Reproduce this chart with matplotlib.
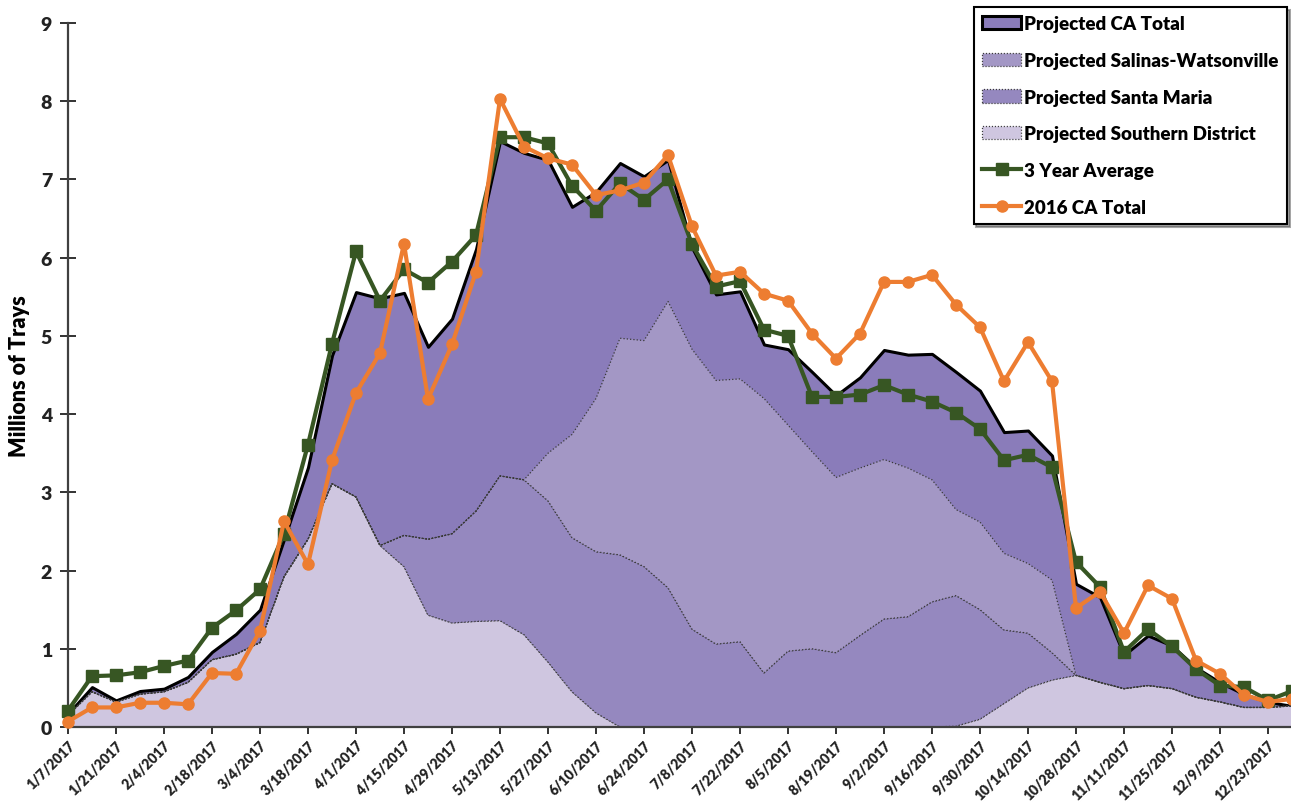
import numpy as np
import pandas as pd
import matplotlib
matplotlib.use("Agg")
import matplotlib.pyplot as plt

plt.rcParams['font.family'] = ['Lato', 'DejaVu Sans']
plt.rcParams['font.weight'] = 'bold'

# weekly periods, 2017
weeks = pd.date_range('2017-01-07', periods=52, freq='7D')
week_labels = [f"{d.month}/{d.day}/{d.year}" for d in weeks]

ca_total = [0.17, 0.51, 0.34, 0.46, 0.49, 0.64, 0.96, 1.19, 1.50, 2.40,
            3.32, 4.75, 5.56, 5.48, 5.55, 4.86, 5.22, 6.11, 7.49, 7.34,
            7.25, 6.65, 6.84, 7.21, 7.04, 7.25, 6.13, 5.53, 5.57, 4.89,
            4.83, 4.54, 4.24, 4.47, 4.82, 4.76, 4.77, 4.54, 4.30, 3.77,
            3.79, 3.47, 1.83, 1.66, 0.92, 1.17, 1.04, 0.76, 0.57, 0.42,
            0.32, 0.27]

southern = [0.15, 0.45, 0.32, 0.42, 0.45, 0.57, 0.86, 0.93, 1.08, 1.92,
            2.40, 3.11, 2.94, 2.32, 2.05, 1.43, 1.33, 1.35, 1.36, 1.18,
            0.83, 0.45, 0.18, 0.00, 0.00, 0.00, 0.00, 0.00, 0.00, 0.00,
            0.00, 0.00, 0.00, 0.00, 0.00, 0.00, 0.00, 0.01, 0.10, 0.30,
            0.50, 0.60, 0.66, 0.57, 0.49, 0.53, 0.49, 0.38, 0.32, 0.25,
            0.25, 0.27]

santa_maria = [0.00, 0.00, 0.00, 0.00, 0.00, 0.00, 0.00, 0.00, 0.00, 0.00,
               0.00, 0.00, 0.00, 0.00, 0.40, 0.97, 1.14, 1.41, 1.85, 1.98,
               2.06, 1.97, 2.06, 2.20, 2.05, 1.78, 1.25, 1.06, 1.09, 0.69,
               0.97, 1.00, 0.95, 1.17, 1.38, 1.41, 1.60, 1.67, 1.40, 0.94,
               0.70, 0.35, 0.00, 0.00, 0.00, 0.00, 0.00, 0.00, 0.00, 0.00,
               0.00, 0.00]

salinas = [0.00, 0.00, 0.00, 0.00, 0.00, 0.00, 0.00, 0.00, 0.00, 0.00,
           0.00, 0.00, 0.00, 0.00, 0.00, 0.00, 0.00, 0.00, 0.00, 0.00,
           0.61, 1.32, 1.96, 2.77, 2.89, 3.66, 3.58, 3.37, 3.36, 3.51,
           2.89, 2.52, 2.24, 2.14, 2.04, 1.90, 1.56, 1.10, 1.12, 0.98,
           0.89, 0.93, 0.00, 0.00, 0.00, 0.00, 0.00, 0.00, 0.00, 0.00,
           0.00, 0.00]

avg_3yr = [0.21, 0.65, 0.66, 0.70, 0.78, 0.85, 1.27, 1.49, 1.76, 2.47,
           3.61, 4.90, 6.08, 5.45, 5.85, 5.68, 5.95, 6.29, 7.54, 7.54,
           7.46, 6.92, 6.60, 6.95, 6.74, 7.00, 6.17, 5.63, 5.70, 5.08,
           5.00, 4.22, 4.22, 4.25, 4.37, 4.25, 4.16, 4.02, 3.81, 3.41,
           3.48, 3.32, 2.11, 1.79, 0.96, 1.25, 1.03, 0.74, 0.53, 0.51,
           0.34, 0.46]

ca_2016 = [0.07, 0.25, 0.25, 0.31, 0.31, 0.29, 0.69, 0.68, 1.23, 2.63,
           2.08, 3.41, 4.27, 4.78, 6.18, 4.19, 4.89, 5.82, 8.03, 7.42,
           7.27, 7.19, 6.80, 6.86, 6.96, 7.31, 6.40, 5.77, 5.82, 5.54,
           5.45, 5.03, 4.71, 5.03, 5.69, 5.69, 5.78, 5.40, 5.11, 4.42,
           4.92, 4.42, 1.52, 1.73, 1.20, 1.81, 1.64, 0.85, 0.68, 0.41,
           0.32, 0.36]

x = np.arange(len(weeks))

fig = plt.figure(figsize=(12.91, 8.04), dpi=100)
ax = fig.add_axes([68 / 1291, 76 / 804, 1224 / 1291, 704 / 804])

h_tot = ax.fill_between(x, ca_total, color='#8a7cba', edgecolor='black',
                        linewidth=2.2, label='Projected CA Total', zorder=1)
polys = ax.stackplot(x, southern, santa_maria, salinas,
                     colors=['#cfc6e0', '#9588bf', '#a397c5'],
                     edgecolor='#3a3a3a', linestyle=':', linewidth=0.9,
                     zorder=2)
polys[0].set_label('Projected Southern District')
polys[1].set_label('Projected Santa Maria')
polys[2].set_label('Projected Salinas-Watsonville')

l_avg, = ax.plot(x, avg_3yr, color='#375623', lw=3, marker='s', ms=8,
                 label='3 Year Average', zorder=4, clip_on=False)
l_16, = ax.plot(x, ca_2016, color='#ed7d31', lw=3, marker='o', ms=8,
                label='2016 CA Total', zorder=5, clip_on=False)

ax.set_xlim(0, 51)
ax.set_ylim(0, 9)
ax.set_yticks(range(10))
ax.set_xticks(x[::2])
ax.set_xticklabels(week_labels[::2], rotation=45, ha='right',
                   rotation_mode='anchor', fontsize=10, fontweight='heavy')
for t in ax.get_yticklabels():
    t.set_fontweight('heavy')
ax.tick_params(axis='y', direction='inout', length=11, width=1.3,
               labelsize=14, colors='#222222', pad=6)
ax.tick_params(axis='x', direction='out', length=5, width=1.3,
               colors='#222222', pad=3)
for s in ['top', 'right']:
    ax.spines[s].set_visible(False)
for s in ['left', 'bottom']:
    ax.spines[s].set_color('#404040')
    ax.spines[s].set_linewidth(1.6)

ax.set_ylabel('Millions of Trays', fontsize=15.5, fontweight='heavy',
              labelpad=8)

handles = [h_tot, polys[2], polys[1], polys[0], l_avg, l_16]
leg = ax.legend(handles=handles, loc='upper right',
                bbox_to_anchor=(0.996, 1.023), borderaxespad=0,
                prop={'size': 13.5, 'weight': 'heavy'},
                frameon=True, fancybox=False, shadow=True,
                handlelength=2.1, handletextpad=0.15, labelspacing=1.05,
                borderpad=0.45)
leg.get_frame().set_edgecolor('black')
leg.get_frame().set_linewidth(1.5)

fig.savefig('out.png', dpi=100)
